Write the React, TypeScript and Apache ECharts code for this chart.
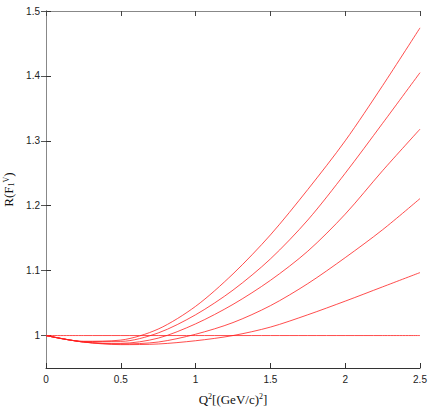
import React, { useEffect, useRef } from "react";
import * as echarts from "echarts";

const xs = [0, 0.25, 0.5, 0.75, 1.0, 1.25, 1.5, 1.75, 2.0, 2.25, 2.5];
const curveA = [1, 0.991, 0.993, 1.01, 1.045, 1.095, 1.155, 1.225, 1.3, 1.385, 1.474];
const curveB = [1, 0.991, 0.991, 1.004, 1.032, 1.07, 1.118, 1.178, 1.25, 1.327, 1.405];
const curveC = [1, 0.99, 0.988, 0.996, 1.018, 1.048, 1.085, 1.13, 1.187, 1.254, 1.318];
const curveD = [1, 0.99, 0.987, 0.99, 1.002, 1.02, 1.046, 1.08, 1.12, 1.163, 1.211];
const curveE = [1, 0.99, 0.986, 0.987, 0.992, 1.0, 1.013, 1.032, 1.053, 1.075, 1.097];
const curveF = [1, 1, 1, 1, 1, 1, 1, 1, 1, 1, 1];
const curves = [curveA, curveB, curveC, curveD, curveE, curveF];
const yTicks = [1, 1.1, 1.2, 1.3, 1.4, 1.5];
const xTicks = [0, 0.5, 1, 1.5, 2, 2.5];

export default function App() {
  const ref = useRef<HTMLDivElement>(null);
  useEffect(() => {
    if (!ref.current) return;
    const chart = echarts.init(ref.current, null, { renderer: "svg" });
    const labelStyle = {
      color: "#222",
      fontFamily: "Liberation Sans, Arial, sans-serif",
      fontSize: 10,
    };
    const serif = "Liberation Serif, Times New Roman, serif";
    chart.setOption({
      animation: false,
      grid: {
        left: 46,
        right: 16,
        top: 11,
        bottom: 40,
        containLabel: false,
        outerBoundsMode: "none",
      },
      xAxis: [
        {
          type: "value",
          position: "bottom",
          min: 0,
          max: 2.5,
          interval: 0.5,
          axisLine: { lineStyle: { color: "#333", width: 1 } },
          axisTick: { inside: true, length: 5, lineStyle: { color: "#333" }, customValues: xTicks },
          axisLabel: { ...labelStyle, margin: 6, customValues: xTicks },
          splitLine: { show: false },
          name: "Q{sup|2}[(GeV/c){sup|2}]",
          nameLocation: "middle",
          nameGap: 24,
          nameTextStyle: {
            color: "#111",
            fontFamily: serif,
            fontSize: 13,
            rich: {
              sup: {
                fontSize: 8,
                verticalAlign: "top",
                padding: [0, 0, 6, 0],
                fontFamily: serif,
                color: "#111",
              },
            },
          },
        },
        {
          type: "value",
          position: "top",
          min: 0,
          max: 2.5,
          interval: 0.5,
          axisLine: { lineStyle: { color: "#888", width: 1 } },
          axisTick: { inside: true, length: 5, lineStyle: { color: "#444" } },
          axisLabel: { show: false },
          splitLine: { show: false },
        },
      ],
      yAxis: [
        {
          type: "value",
          position: "left",
          min: 0.95,
          max: 1.5,
          axisLine: { show: true, lineStyle: { color: "#333", width: 1 } },
          axisTick: { show: true, inside: true, length: 5, lineStyle: { color: "#333" }, customValues: yTicks },
          axisLabel: { ...labelStyle, margin: 6, customValues: yTicks },
          splitLine: { show: false },
          name: "R(F{sub|1}{sup|V})",
          nameLocation: "middle",
          nameGap: 31,
          nameTextStyle: {
            color: "#111",
            fontFamily: serif,
            fontSize: 13,
            rich: {
              sup: {
                fontSize: 8,
                verticalAlign: "top",
                padding: [0, 0, 5, 0],
                fontFamily: serif,
                color: "#111",
              },
              sub: {
                fontSize: 8,
                verticalAlign: "bottom",
                padding: [3, 0, 0, 0],
                fontFamily: serif,
                color: "#111",
              },
            },
          },
        },
        {
          type: "value",
          position: "right",
          min: 0.95,
          max: 1.5,
          axisLine: { show: true, lineStyle: { color: "#888", width: 1 } },
          axisTick: { show: true, inside: true, length: 5, lineStyle: { color: "#555" }, customValues: yTicks },
          axisLabel: { show: false },
          splitLine: { show: false },
        },
      ],
      series: curves.map((c) => ({
        type: "line",
        xAxisIndex: 0,
        yAxisIndex: 0,
        smooth: 0.3,
        symbol: "none",
        lineStyle: { color: "#ff2020", width: 0.8 },
        data: xs.map((x, i) => [x, c[i]]),
      })),
    });
    return () => chart.dispose();
  }, []);
  return (
    <div
      ref={ref}
      style={{ position: "fixed", left: 0, top: 0, width: 436, height: 408, background: "#fff" }}
    />
  );
}
